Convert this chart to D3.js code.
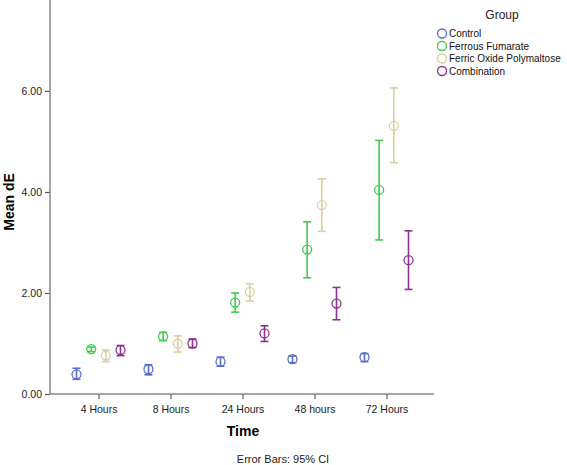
<!DOCTYPE html>
<html><head><meta charset="utf-8">
<script src="https://cdn.jsdelivr.net/npm/d3@7"></script>
<style>body{margin:0;background:#fff}svg{display:block;font-family:Arial,"Liberation Sans",sans-serif}</style>
</head><body>
<script>
const categories = ["4 Hours","8 Hours","24 Hours","48 hours","72 Hours"];
const groups = ["Control","Ferrous Fumarate","Ferric Oxide Polymaltose","Combination"];
const colors = ["#5a6ec6","#3fcc4c","#d9d09f","#8e3090"];
const meanControl = [0.39,0.49,0.64,0.69,0.73];
const lowControl  = [0.29,0.38,0.55,0.62,0.64];
const highControl = [0.51,0.58,0.73,0.75,0.80];
const meanFerrous = [0.89,1.14,1.81,2.86,4.04];
const lowFerrous  = [0.84,1.06,1.62,2.30,3.05];
const highFerrous = [0.93,1.22,2.00,3.41,5.02];
const meanFOP = [0.76,1.00,2.02,3.74,5.31];
const lowFOP  = [0.64,0.83,1.84,3.22,4.58];
const highFOP = [0.87,1.15,2.18,4.26,6.06];
const meanComb = [0.87,1.00,1.20,1.79,2.65];
const lowComb  = [0.76,0.92,1.04,1.47,2.07];
const highComb = [0.96,1.09,1.35,2.11,3.23];
const yTicks = [0,2,4,6];

const means = [meanControl,meanFerrous,meanFOP,meanComb];
const lows = [lowControl,lowFerrous,lowFOP,lowComb];
const highs = [highControl,highFerrous,highFOP,highComb];

const W=567,H=465;
const svg=d3.select("body").append("svg").attr("width",W).attr("height",H);
const y=d3.scaleLinear().domain([0,7.8]).range([394,0]);
const x=d3.scalePoint().domain(categories).range([98.5,386.5]);
const off=d3.scalePoint().domain(groups).range([-22,22]);
const axisColor="#888";

// axes
const ya=svg.append("g").attr("transform","translate(50,0)")
  .call(d3.axisLeft(y).tickValues(yTicks).tickFormat(d3.format(".2f")).tickSize(5).tickSizeOuter(0));
ya.select(".domain").remove();
svg.append("line").attr("x1",50).attr("x2",50).attr("y1",0).attr("y2",395).attr("stroke",axisColor).attr("stroke-width",1.5);
const xa=svg.append("g").attr("transform","translate(0,394)")
  .call(d3.axisBottom(x).tickSize(5).tickSizeOuter(0));
xa.select(".domain").remove();
svg.append("line").attr("x1",50).attr("x2",434).attr("y1",394).attr("y2",394).attr("stroke",axisColor).attr("stroke-width",1.5);
[ya,xa].forEach(g=>{
  g.selectAll(".tick line").attr("stroke","#555").attr("stroke-width",1.2);
  g.selectAll(".tick text").attr("fill","#222").attr("font-size","10.5px").attr("font-family","Arial,'Liberation Sans',sans-serif");
});
xa.selectAll(".tick text").attr("dy","1.05em");

// error bars and points
groups.forEach((gname,gi)=>{
  const g=svg.append("g").attr("stroke",colors[gi]).attr("fill","none").attr("stroke-width",1.6);
  categories.forEach((c,ci)=>{
    const cx=x(c)+off(gname);
    g.append("line").attr("x1",cx).attr("x2",cx).attr("y1",y(highs[gi][ci])).attr("y2",y(lows[gi][ci]));
    [highs[gi][ci],lows[gi][ci]].forEach(v=>{
      g.append("line").attr("x1",cx-4).attr("x2",cx+4).attr("y1",y(v)).attr("y2",y(v));
    });
    g.append("circle").attr("cx",cx).attr("cy",y(means[gi][ci])).attr("r",4.5).attr("fill","none").attr("stroke-width",1.3);
  });
});

// axis titles
svg.append("text").attr("transform","translate(14,202) rotate(-90)").attr("text-anchor","middle")
  .attr("font-weight","bold").attr("font-size","14px").attr("fill","#000").text("Mean dE");
svg.append("text").attr("x",243).attr("y",436).attr("text-anchor","middle")
  .attr("font-weight","bold").attr("font-size","14px").attr("fill","#000").text("Time");
svg.append("text").attr("x",283).attr("y",463).attr("text-anchor","middle")
  .attr("font-size","11px").attr("fill","#222").text("Error Bars: 95% CI");

// legend
svg.append("text").attr("x",502).attr("y",19).attr("text-anchor","middle").attr("font-size","12px").attr("fill","#222").text("Group");
const lg=svg.append("g");
groups.forEach((gname,gi)=>{
  const ly=33.5+gi*12.5;
  lg.append("circle").attr("cx",442).attr("cy",ly).attr("r",4.5).attr("fill","none").attr("stroke",colors[gi]).attr("stroke-width",1.3);
  lg.append("text").attr("x",449).attr("y",ly+3.6).attr("font-size","10px").attr("fill","#111").text(gname);
});
</script>
</body></html>
